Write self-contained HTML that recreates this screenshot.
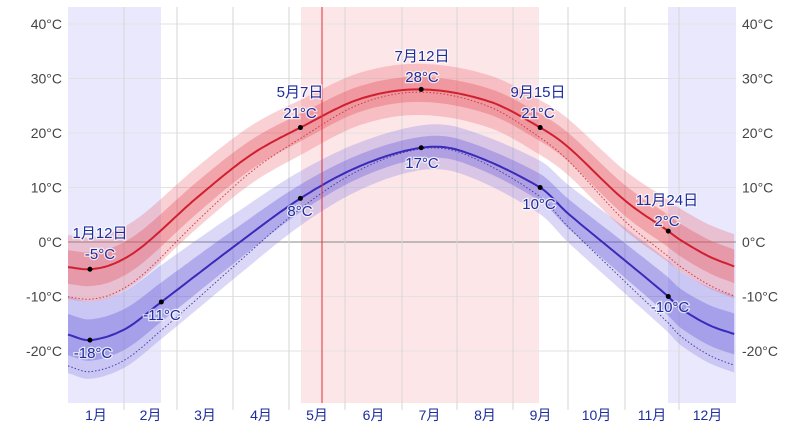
<!DOCTYPE html>
<html><head><meta charset="utf-8">
<style>
html,body{margin:0;padding:0;background:#fff;}
svg{display:block;font-family:"Liberation Sans","Noto Sans CJK JP",sans-serif;}
#lbl text{paint-order:stroke;stroke:#fff;stroke-width:2.5px;stroke-opacity:0.7;}
</style></head><body>
<svg id="c" width="800" height="430" viewBox="0 0 800 430" xmlns="http://www.w3.org/2000/svg">
<rect x="68" y="7" width="93" height="396" fill="#e9e8fd"/>
<rect x="668" y="7" width="68" height="396" fill="#e9e8fd"/>
<rect x="301" y="7" width="238" height="396" fill="#fde6e8"/>
<g id="grid"></g>
<g id="bands"></g>
<line x1="322" y1="7" x2="322" y2="403" stroke="#e0303a" stroke-width="1"/>
<g id="lbl" font-size="15" fill="#1e2d9c" text-anchor="middle"></g>
</svg>
<script>
var X0=68,X1=736,Y0=242,S=5.45;
function X(d){return X0+(X1-X0)*d/365;}
function Y(v){return Y0-v*S;}
var ns="http://www.w3.org/2000/svg";
function el(p,tag,a,txt){var e=document.createElementNS(ns,tag);for(var k in a)e.setAttribute(k,a[k]);if(txt)e.textContent=txt;p.appendChild(e);return e;}
var g=document.getElementById('grid');
for(var tv=-20;tv<=40;tv+=10){
 el(g,'line',{x1:X0,x2:X1,y1:Y(tv),y2:Y(tv),stroke:tv==0?'#888':'#e2e2e2','stroke-width':1});
 el(g,'text',{x:62,y:Y(tv)+5,'font-size':14,fill:'#444','text-anchor':'end'},tv+'°C');
 el(g,'text',{x:742,y:Y(tv)+5,'font-size':14,fill:'#444'},tv+'°C');
}
var mx=[124,177,233,289,345,402,457,513,568,625,679];
mx.forEach(function(x){el(g,'line',{x1:x,x2:x,y1:7,y2:410,stroke:'#d6d6d6','stroke-width':1});});
var mb=[68].concat(mx).concat([736]);
for(var i=0;i<12;i++){el(g,'text',{x:(mb[i]+mb[i+1])/2,y:420,'font-size':14,fill:'#1e2d9c','text-anchor':'middle'},(i+1)+'月');}
function interp(pts){return function(d){
 for(var i=0;i<pts.length-1;i++){if(d<=pts[i+1][0]){var p0=pts[Math.max(0,i-1)],p1=pts[i],p2=pts[i+1],p3=pts[Math.min(pts.length-1,i+2)];
 var u=(d-p1[0])/(p2[0]-p1[0]);var m1=(p2[1]-p0[1])/(p2[0]-p0[0])*(p2[0]-p1[0]),m2=(p3[1]-p1[1])/(p3[0]-p1[0])*(p2[0]-p1[0]);
 var u2=u*u,u3=u2*u;return (2*u3-3*u2+1)*p1[1]+(u3-2*u2+u)*m1+(-2*u3+3*u2)*p2[1]+(u3-u2)*m2;}}
 return pts[pts.length-1][1];};}
var H=interp([[0,-4.6],[12,-5],[25,-4],[40,-1],[70,8],[100,16],[127,21],[160,26.3],[193,28],[230,25.8],[258,21],[273,17.5],[304,7.7],[328,2],[334,0.5],[350,-2.6],[365,-4.6]]);
var L=interp([[0,-17],[12,-18],[31,-16],[51,-11],[90,-1],[127,8],[160,14],[193,17.3],[215,16.7],[258,10],[273,5.3],[304,-3.3],[328,-10],[334,-12],[350,-15.2],[365,-17]]);
function c(d){return Math.cos(2*Math.PI*(d-12)/365);}
var B=document.getElementById('bands');
function band(f,w,fill){var a=[],b=[];for(var d=0;d<=365;d+=2){a.push(X(d).toFixed(1)+','+Y(f(d)+w(d)).toFixed(1));b.unshift(X(d).toFixed(1)+','+Y(f(d)-w(d)).toFixed(1));}
 el(B,'polygon',{points:a.concat(b).join(' '),fill:fill});}
function line(f,attrs){var a=[];for(var d=0;d<=365;d+=2)a.push(X(d).toFixed(1)+','+Y(f(d)).toFixed(1));attrs.points=a.join(' ');attrs.fill='none';el(B,'polyline',attrs);}
band(L,function(d){return 5.6+1.5*c(d);},'rgba(110,100,225,0.25)');
band(L,function(d){return 2.9+0.9*c(d);},'rgba(100,90,215,0.35)');
band(H,function(d){return 5.3+0.6*c(d);},'rgba(235,90,100,0.28)');
band(H,function(d){return 2.7+0.4*c(d);},'rgba(225,70,85,0.32)');
line(function(d){return L(d)-3-2.8*c(d);},{stroke:'#4a3fa8','stroke-width':1,'stroke-dasharray':'1.5,2'});
line(function(d){return H(d)-3-2.5*c(d);},{stroke:'#d03a44','stroke-width':1,'stroke-dasharray':'1.5,2'});
line(L,{stroke:'#3a2ab8','stroke-width':2});
line(H,{stroke:'#d01f30','stroke-width':2});
var lb=document.getElementById('lbl');
function dot(d,f){el(lb,'circle',{cx:X(d),cy:Y(f(d)),r:2.5,fill:'#000'});}
[[12,H],[127,H],[193,H],[258,H],[328,H],[12,L],[51,L],[127,L],[193,L],[258,L],[328,L]].forEach(function(p){dot(p[0],p[1]);});
function tx(x,y,s){el(lb,'text',{x:x,y:y},s);}
tx(100,238,'1月12日');tx(100,259,'-5°C');
tx(300,97,'5月7日');tx(300,118,'21°C');
tx(422,61,'7月12日');tx(422,82,'28°C');
tx(538,97,'9月15日');tx(538,118,'21°C');
tx(667,205,'11月24日');tx(667,226,'2°C');
tx(93,358,'-18°C');tx(162,320,'-11°C');tx(300,216,'8°C');
tx(422,168,'17°C');tx(539,209,'10°C');tx(670,312,'-10°C');
</script>
</body></html>
